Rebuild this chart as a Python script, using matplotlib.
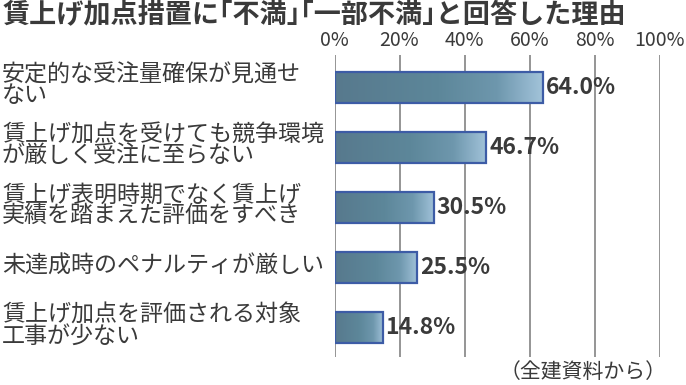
import matplotlib
matplotlib.use("Agg")
import matplotlib.pyplot as plt
import numpy as np
from matplotlib.colors import LinearSegmentedColormap
from matplotlib.transforms import blended_transform_factory

plt.rcParams['font.family'] = ['Noto Sans CJK JP', 'DejaVu Sans']

title = "賃上げ加点措置に｢不満｣｢一部不満｣と回答した理由"
categories = [
    "安定的な受注量確保が見通せ\nない",
    "賃上げ加点を受けても競争環境\nが厳しく受注に至らない",
    "賃上げ表明時期でなく賃上げ\n実績を踏まえた評価をすべき",
    "未達成時のペナルティが厳しい",
    "賃上げ加点を評価される対象\n工事が少ない",
]
values = [64.0, 46.7, 30.5, 25.5, 14.8]
xticks = [0, 20, 40, 60, 80, 100]
xticklabels = ["0%", "20%", "40%", "60%", "80%", "100%"]
source = "（全建資料から）"

W, H = 686, 385
fig = plt.figure(figsize=(W / 100, H / 100), dpi=100)
fig.patch.set_facecolor("white")

ax_left, ax_right = 334.5, 659.5
ax_top, ax_bot = 55, 357
ax = fig.add_axes([ax_left / W, 1 - ax_bot / H, (ax_right - ax_left) / W, (ax_bot - ax_top) / H])

text_color = "#3a3a3a"
grid_color = "#8c8c8c"

y = np.arange(len(values))
bars = ax.barh(y, values, height=31 / 60, color="none", edgecolor="#3d5ca6", linewidth=1.6, zorder=4)

cmap = LinearSegmentedColormap.from_list(
    "g", [(0.0, "#57798d"), (0.5, "#5d879a"), (0.78, "#6e97ad"), (1.0, "#a2c3da")])
grad = np.linspace(0, 1, 256).reshape(1, -1)
for b in bars:
    x0, y0 = b.get_x(), b.get_y()
    w, h = b.get_width(), b.get_height()
    im = ax.imshow(grad, cmap=cmap, aspect="auto", extent=[x0, x0 + w, y0 + h, y0],
                   zorder=3, interpolation="bicubic")
    im.set_clip_path(b)

ax.set_xlim(0, 100)
ax.set_ylim(4.49, -0.54)
for s in ax.spines.values():
    s.set_visible(False)
ax.set_xticks(xticks)
ax.set_xticklabels(xticklabels)
ax.xaxis.tick_top()
ax.tick_params(axis="x", length=0, pad=3, labelsize=14, labelcolor=text_color)
ax.set_yticks([])
ax.grid(axis="x", color=grid_color, linewidth=1.3, zorder=1)
ax.set_axisbelow(True)
ax.set_facecolor("none")

for v, yy in zip(values, y):
    ax.text(v + 0.9, yy, f"{v:.1f}%", va="center", ha="left", fontsize=16.5,
            fontweight="bold", color=text_color, zorder=5)

tr = blended_transform_factory(fig.transFigure, ax.transData)
for c, yy in zip(categories, y):
    ax.text(2 / W, yy - 0.03, c, transform=tr, ha="left", va="center", fontsize=16.6,
            color=text_color, linespacing=0.85)

fig.text(3 / W, 1 - 15 / H, title, ha="left", va="center", fontsize=19.5,
         fontweight="bold", color=text_color)
fig.text(667 / W, 1 - 372 / H, source, ha="right", va="center", fontsize=15,
         color=text_color)

fig.savefig("out.png", dpi=100, facecolor="white")
